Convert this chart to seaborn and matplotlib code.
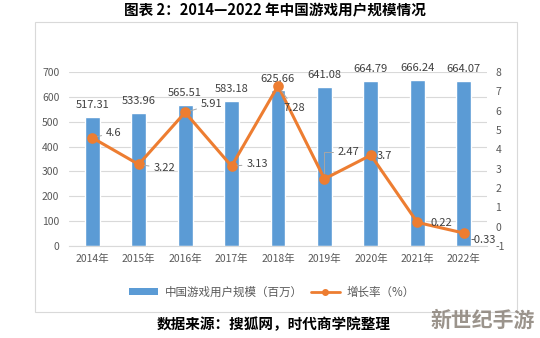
import numpy as np
import pandas as pd
import matplotlib
matplotlib.use('Agg')
import matplotlib.pyplot as plt
import seaborn as sns
from matplotlib.patches import Rectangle, Patch
from matplotlib.lines import Line2D

# ---- data ----
years = ['2014年', '2015年', '2016年', '2017年', '2018年', '2019年', '2020年', '2021年', '2022年']
users = [517.31, 533.96, 565.51, 583.18, 625.66, 641.08, 664.79, 666.24, 664.07]
growth = [4.6, 3.22, 5.91, 3.13, 7.28, 2.47, 3.7, 0.22, -0.33]
left_ticks = [0, 100, 200, 300, 400, 500, 600, 700]
right_ticks = [-1, 0, 1, 2, 3, 4, 5, 6, 7, 8]
bar_name = '中国游戏用户规模（百万）'
line_name = '增长率（%）'
title = '图表 2：2014—2022 年中国游戏用户规模情况'
source = '数据来源：搜狐网，时代商学院整理'
watermark = '新世纪手游'

# label offsets (pixels) for growth labels and leader-line style
g_off = [(14, 5), (15, -4), (16, 8), (15, 2), (5, -22), (13, 27), (6, -1), (13, -1), (7, -7)]
g_lead = ['straight', 'straight', 'straight', 'straight', 'straight', 'angle', None, None, None]

BLUE = '#5B9BD5'
ORANGE = '#ED7D31'
GRID = '#D9D9D9'
TXT = '#595959'
LBL = '#404040'

sns.set_theme(style='white')
plt.rcParams['font.family'] = ['Noto Sans CJK SC', 'DejaVu Sans']
plt.rcParams['axes.unicode_minus'] = False

W, H = 540, 338
fig = plt.figure(figsize=(W / 100, H / 100), dpi=100)
fig.patch.set_facecolor('white')

ax = fig.add_axes([69 / W, 1 - 246 / H, (487 - 69) / W, (246 - 72) / H])
df = pd.DataFrame({'year': years, 'users': users, 'growth': growth})

sns.barplot(data=df, x='year', y='users', ax=ax, color=BLUE, saturation=1,
            width=0.32, errorbar=None, zorder=2)
ax.set_ylim(0, 700)
ax.set_yticks(left_ticks)
ax.yaxis.grid(True, color=GRID, lw=0.8)
ax.xaxis.grid(False)
ax.set_axisbelow(True)
for s in ['top', 'left', 'right']:
    ax.spines[s].set_visible(False)
ax.spines['bottom'].set_color(GRID)
ax.spines['bottom'].set_linewidth(0.8)
ax.tick_params(axis='y', length=0, labelsize=7.5, labelcolor=TXT, pad=7)
ax.tick_params(axis='x', length=0, labelsize=7.5, labelcolor=TXT, pad=6)
ax.set_xlabel('')
ax.set_ylabel('')

ax.bar_label(ax.containers[0], fmt='%.2f', padding=5, fontsize=8, color=LBL)

ax2 = ax.twinx()
sns.pointplot(data=df, x='year', y='growth', ax=ax2, color=ORANGE, markers='o',
              linestyles='-', markersize=6, linewidth=2.2, errorbar=None)
ax2.set_ylim(-1, 8)
ax2.set_yticks(right_ticks)
for s in ['top', 'left', 'right', 'bottom']:
    ax2.spines[s].set_visible(False)
ax2.tick_params(axis='y', length=0, labelsize=7.5, labelcolor=TXT, pad=6)
ax2.set_xlabel('')
ax2.set_ylabel('')
ax2.grid(False)
ax.set_xlim(-0.5, len(years) - 0.5)

for i, v in enumerate(growth):
    dx, dy = g_off[i]
    props = None
    if g_lead[i] == 'straight':
        props = dict(arrowstyle='-', color='#A6A6A6', lw=0.7, shrinkA=1, shrinkB=4)
    elif g_lead[i] == 'angle':
        props = dict(arrowstyle='-', color='#A6A6A6', lw=0.7, shrinkA=1, shrinkB=4,
                     connectionstyle='angle,angleA=0,angleB=90,rad=0')
    ax2.annotate(f'{v:g}', xy=(i, v), xytext=(dx, dy), textcoords='offset pixels',
                 ha='left', va='center', fontsize=8, color=LBL, arrowprops=props,
                 annotation_clip=False)

handles = [Patch(facecolor=BLUE, edgecolor='none'),
           Line2D([0], [0], color=ORANGE, lw=2, marker='o', markersize=4)]
fig.legend(handles, [bar_name, line_name], loc='center', bbox_to_anchor=(272 / W, 1 - 292 / H),
           ncol=2, frameon=False, fontsize=8.3, handlelength=2.5, handleheight=0.6,
           handletextpad=0.6, columnspacing=0.7, labelcolor=TXT)

fig.add_artist(Rectangle((35 / W, 1 - 312 / H), (517 - 35) / W, (312 - 22) / H,
                         transform=fig.transFigure, fill=False, edgecolor=GRID, lw=0.8))

fig.text(275 / W, 1 - 10 / H, title, ha='center', va='center', fontsize=10.5,
         fontweight='bold', color='black')
fig.text(274 / W, 1 - 324 / H, source, ha='center', va='center', fontsize=10.5,
         fontweight='bold', color='black')
fig.text(483 / W, 1 - 320 / H, watermark, ha='center', va='center', fontsize=15,
         fontweight='bold', color='#8a8178', alpha=0.85)

fig.savefig('out.png', dpi=100)
